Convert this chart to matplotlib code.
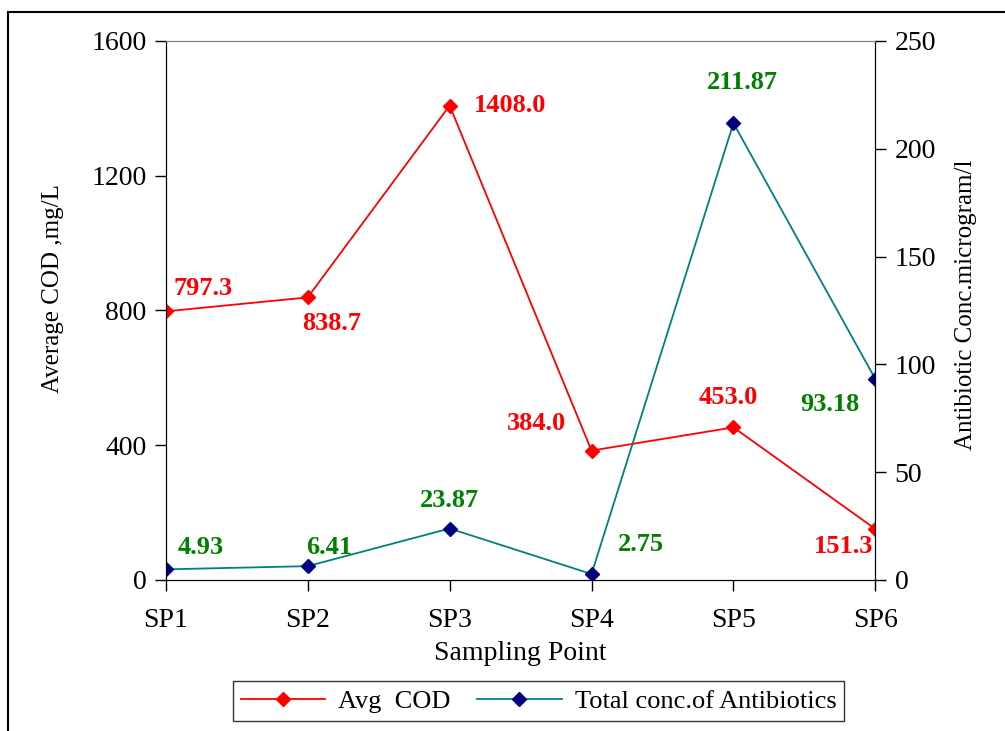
import matplotlib
matplotlib.use("Agg")
import matplotlib.pyplot as plt
from matplotlib.lines import Line2D

plt.rcParams['font.family'] = ['Liberation Serif', 'DejaVu Serif']

points = ['SP1', 'SP2', 'SP3', 'SP4', 'SP5', 'SP6']
avg_cod = [797.3, 838.7, 1408.0, 384.0, 453.0, 151.3]
antibiotics = [4.93, 6.41, 23.87, 2.75, 211.87, 93.18]
cod_labels = ['797.3', '838.7', '1408.0', '384.0', '453.0', '151.3']
ab_labels = ['4.93', '6.41', '23.87', '2.75', '211.87', '93.18']

# label offsets in pixels
cod_off = [(37, 23), (24, -26), (60, 0), (-55, 27), (-5, 30), (-32, -17)]
ab_off = [(35, 22), (21, 19), (0, 28), (49, 30), (9, 41), (-45, -25)]

fig = plt.figure(figsize=(10.05, 7.31), dpi=100)
ax = fig.add_axes([0.165, 0.2066, 0.706, 0.7374])
ax2 = ax.twinx()

x = list(range(len(points)))
l1, = ax.plot(x, avg_cod, color='#FF0000', lw=1.3, marker='D', ms=7,
              markerfacecolor='#FF0000', markeredgecolor='#FF0000', label='Avg COD')
l2, = ax2.plot(x, antibiotics, color='#008080', lw=1.3, marker='D', ms=7,
               markerfacecolor='#000080', markeredgecolor='#000080',
               label='Total conc.of Antibiotics')

ax.set_xlim(0, 5)
ax.set_ylim(0, 1600)
ax.set_yticks([0, 400, 800, 1200, 1600])
ax2.set_ylim(0, 250)
ax2.set_yticks([0, 50, 100, 150, 200, 250])
ax.set_xticks(x)
ax.set_xticklabels(points)

for a in (ax, ax2):
    a.tick_params(labelsize=20, length=8, width=1, direction='out', pad=6)
    for s in a.spines.values():
        s.set_color('black')
    a.spines['top'].set_color('#808080')
ax.tick_params(axis='x', pad=12)

ax.set_xlabel('Sampling Point', fontsize=20, labelpad=6)
ax.set_ylabel('Average COD ,mg/L', fontsize=18)
ax.yaxis.set_label_coords(-0.143, 0.54)
ax2.set_ylabel('Antibiotic Conc.microgram/l', fontsize=18)
ax2.yaxis.set_label_coords(1.112, 0.51)

for xi, yi, t, o in zip(x, avg_cod, cod_labels, cod_off):
    ax.annotate(t, (xi, yi), xytext=o, textcoords='offset pixels', ha='center',
                va='center', color='#FF0000', fontsize=19, fontweight='bold',
                annotation_clip=False)
for xi, yi, t, o in zip(x, antibiotics, ab_labels, ab_off):
    ax2.annotate(t, (xi, yi), xytext=o, textcoords='offset pixels', ha='center',
                 va='center', color='#008000', fontsize=19, fontweight='bold',
                 annotation_clip=False)

leg = fig.legend([l1, l2], ['Avg  COD', 'Total conc.of Antibiotics'], loc='lower center',
                 bbox_to_anchor=(0.536, -0.004), ncol=2, fontsize=19, frameon=True,
                 fancybox=False, edgecolor='black', handlelength=3.2, columnspacing=1.0,
                 handletextpad=0.5, borderpad=0.3)
leg.get_frame().set_linewidth(1)

# outer chart frame
fig.add_artist(Line2D([0.008, 0.008], [0, 0.984], color='black', lw=1.5))
fig.add_artist(Line2D([0.008, 1.0], [0.984, 0.984], color='black', lw=1.5))

fig.savefig('out.png', dpi=100)
